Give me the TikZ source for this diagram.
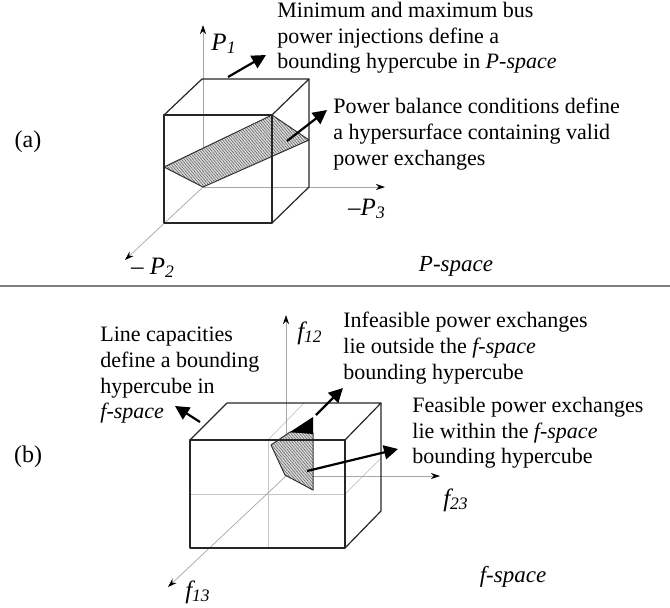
\documentclass[tikz,border=0pt]{standalone}
\usepackage{fontspec}
\setmainfont{Liberation Serif}
\usetikzlibrary{arrows.meta,patterns,patterns.meta}
\begin{document}
\begin{tikzpicture}[x=0.5pt,y=-0.5pt,
  axis/.style={draw=gray!70, line width=0.35pt, -{Stealth[length=4.5pt,width=3pt,black]}},
  edge/.style={draw=black!85, line width=0.6pt, line join=round},
  midline/.style={draw=gray!45, line width=0.35pt},
  callout/.style={draw=black, line width=1.1pt, -{Triangle[length=7pt,width=7pt]}},
  txt/.style={font=\fontsize{11}{12.8}\selectfont, align=left, inner sep=0pt, anchor=north west},
  lbl/.style={font=\fontsize{12.5}{14}\selectfont\itshape, inner sep=0pt},
  spacelbl/.style={font=\fontsize{11.5}{14}\selectfont\itshape, inner sep=0pt},
  plain/.style={font=\fontsize{12}{14}\selectfont, inner sep=0pt},
  hatchfill/.style={fill=gray!28},
  hatchlines/.style={pattern={Lines[angle=-50,distance=1.1pt,line width=0.3pt]}, pattern color=gray!80!black},
  outline/.style={draw=black!80, line width=0.5pt, line join=round}]
\useasboundingbox (0,0) rectangle (670,607);

% ---------------- panel (a) ----------------
\coordinate (Oa) at (203,187);
\coordinate (P1tip) at (203,25);
\coordinate (P3tip) at (385,187);
\coordinate (P2tip) at (125,260);
\draw[axis] (Oa) -- (P1tip);
\draw[axis] (Oa) -- (P3tip);
\draw[axis] (Oa) -- (P2tip);

% hyperplane
\path[hatchfill] (164,167) -- (272,115) -- (309,140) -- (203,187) -- cycle;
\path[hatchlines] (164,167) -- (272,115) -- (309,140) -- (203,187) -- cycle;
\path[outline] (164,167) -- (272,115) -- (309,140) -- (203,187) -- cycle;

% cube
\draw[edge] (164,115) rectangle (272,223);
\draw[edge] (164,115) -- (202,79) -- (309,79) -- (272,115);
\draw[edge] (309,79) -- (309,187) -- (272,223);

% callouts
\coordinate (ca1s) at (228,77);
\coordinate (ca1e) at (266,55);
\coordinate (ca2s) at (287,141);
\coordinate (ca2e) at (327,110);
\draw[callout] (ca1s) -- (ca1e);
\draw[callout] (ca2s) -- (ca2e);

\node[txt] (ta1) at (277,2) {Minimum and maximum bus\\power injections define a\\bounding hypercube in \textit{P-space}};
\node[txt] (ta2) at (333,98) {Power balance conditions define\\a hypersurface containing valid\\power exchanges};

\node[lbl] (lP1) at (224,44) {P\textsubscript{1}};
\node[lbl] (lP3) at (367,209) {–P\textsubscript{3}};
\node[lbl] (lP2) at (153,268) {– P\textsubscript{2}};
\node[spacelbl] (lPs) at (456,266) {P-space};
\node[plain] (la) at (28,142) {(a)};

% separator
\coordinate (sepL) at (0,286);
\coordinate (sepR) at (670,286);
\draw[gray, line width=0.8pt] (sepL) -- (sepR);

% ---------------- panel (b) ----------------
\coordinate (Ob) at (286,476);
\coordinate (f12tip) at (286,315);
\coordinate (f23tip) at (440,476);
\coordinate (f13tip) at (168,587);

% mid lines of the box
\draw[midline] (268,440) -- (268,548);
\draw[midline] (190,494) -- (345,494);
\draw[midline] (268,440) -- (304,403);
\draw[midline] (345,494) -- (381,458);

\draw[axis] (Ob) -- (f12tip);
\draw[axis] (Ob) -- (f23tip);
\draw[axis] (Ob) -- (f13tip);

% feasible region
\path[hatchfill] (271,445) -- (290,432) -- (313,433) -- (313,490) -- (285,475) -- cycle;
\path[hatchlines] (271,445) -- (290,432) -- (313,433) -- (313,490) -- (285,475) -- cycle;
\path[outline] (271,445) -- (290,432) -- (313,433) -- (313,490) -- (285,475) -- cycle;
\fill[black] (290,432) -- (313,417) -- (313,434) -- cycle;

% box
\draw[edge] (190,440) rectangle (345,548);
\draw[edge] (190,440) -- (227,403) -- (381,403) -- (345,440);
\draw[edge] (381,403) -- (381,511) -- (345,548);

% callouts
\coordinate (cb1s) at (200,422);
\coordinate (cb1e) at (175,406);
\coordinate (cb2s) at (316,415);
\coordinate (cb2e) at (343,388);
\coordinate (cb3s) at (307,471);
\coordinate (cb3e) at (398,449);
\draw[callout] (cb1s) -- (cb1e);
\draw[callout] (cb2s) -- (cb2e);
\draw[callout] (cb3s) -- (cb3e);

\node[txt] (tb1) at (100,327) {Line capacities\\define a bounding\\hypercube in\\\textit{f-space}};
\node[txt] (tb2) at (343,312) {Infeasible power exchanges\\lie outside the \textit{f-space}\\bounding hypercube};
\node[txt] (tb3) at (412,397) {Feasible power exchanges\\lie within the \textit{f-space}\\bounding hypercube};

\node[lbl] (lf12) at (310,333) {f\textsubscript{12}};
\node[lbl] (lf23) at (456,500) {f\textsubscript{23}};
\node[lbl] (lf13) at (198,592) {f\textsubscript{13}};
\node[spacelbl] (lfs) at (513,577) {f-space};
\node[plain] (lb) at (28,457) {(b)};
\end{tikzpicture}
\end{document}
